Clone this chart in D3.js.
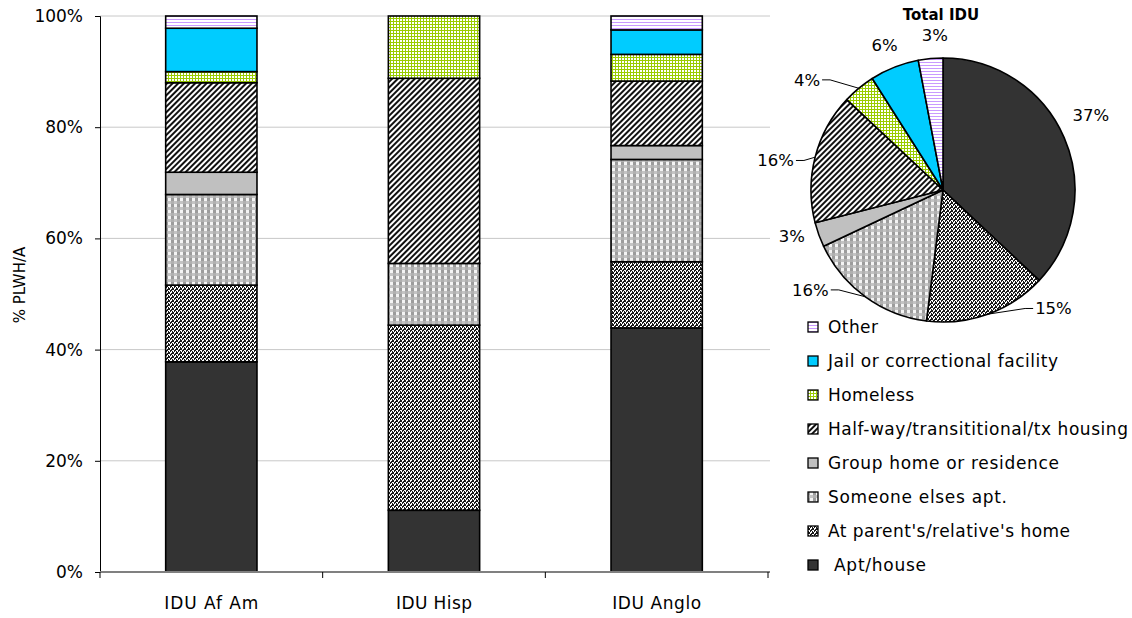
<!DOCTYPE html>
<html>
<head>
<meta charset="utf-8">
<script src="https://cdn.jsdelivr.net/npm/d3@7"></script>
<style>
  html, body { margin: 0; padding: 0; background: #fff; }
  svg { display: block; font-family: "DejaVu Sans", Verdana, sans-serif; }
</style>
</head>
<body>
<svg id="chart" width="1132" height="618"></svg>
<script>
// Housing status of IDU PLWH/A, percent by group (stacked bottom to top)
const categories = ["IDU Af Am", "IDU Hisp", "IDU Anglo"];
const seriesNames = [
  "Apt/house",
  "At parent's/relative's home",
  "Someone elses apt.",
  "Group home or residence",
  "Half-way/transititional/tx housing",
  "Homeless",
  "Jail or correctional facility",
  "Other"
];
const afAmValues  = [37.8, 13.8, 16.3, 4.0, 16.1, 2.0, 7.8, 2.2];
const hispValues  = [11.1, 33.3, 11.1, 0.0, 33.3, 11.2, 0.0, 0.0];
const angloValues = [43.9, 11.9, 18.4, 2.5, 11.6, 4.8, 4.4, 2.5];
const totalIduValues = [37, 15, 16, 3, 16, 4, 6, 3];
const yTicks = [0, 20, 40, 60, 80, 100];
const pieTitle = "Total IDU";
const yAxisTitle = "% PLWH/A";

const groupValues = [afAmValues, hispValues, angloValues];

const svg = d3.select("#chart");
const defs = svg.append("defs");

// ---- fill patterns ----
function pattern(id, w, h, build, transform) {
  const p = defs.append("pattern").attr("id", id)
    .attr("patternUnits", "userSpaceOnUse").attr("width", w).attr("height", h);
  if (transform) p.attr("patternTransform", transform);
  build(p);
}
// dense black/white confetti
pattern("pParent", 4, 4, p => {
  p.append("rect").attr("width", 4).attr("height", 4).attr("fill", "#fff");
  [[0,0],[1,0],[1,1],[3,1],[2,2],[3,2],[0,3],[2,3],[0,1]].forEach(([x, y]) =>
    p.append("rect").attr("x", x).attr("y", y).attr("width", 1).attr("height", 1).attr("fill", "#1a1a1a"));
});
// light grey checker
pattern("pSomeone", 6, 6, p => {
  p.append("rect").attr("width", 6).attr("height", 6).attr("fill", "#c4c4c4");
  p.append("rect").attr("x", 0).attr("y", 0).attr("width", 3).attr("height", 3).attr("fill", "#f4f4f4");
  p.append("rect").attr("x", 3).attr("y", 0).attr("width", 3).attr("height", 3).attr("fill", "#9c9c9c");
  p.append("rect").attr("x", 3).attr("y", 3).attr("width", 3).attr("height", 3).attr("fill", "#b0b0b0");
});
// forward diagonal stripes
pattern("pHalfway", 4, 4, p => {
  p.append("rect").attr("width", 4).attr("height", 4).attr("fill", "#fff");
  p.append("rect").attr("x", 0).attr("y", 0).attr("width", 2).attr("height", 4).attr("fill", "#111");
}, "rotate(45)");
// yellow-green small grid
pattern("pHomeless", 3, 3, p => {
  p.append("rect").attr("width", 3).attr("height", 3).attr("fill", "#fff");
  p.append("rect").attr("x", 0).attr("y", 0).attr("width", 3).attr("height", 1).attr("fill", "#99cc00");
  p.append("rect").attr("x", 0).attr("y", 0).attr("width", 1).attr("height", 3).attr("fill", "#99cc00");
});
// lavender horizontal lines
pattern("pOther", 3, 3, p => {
  p.append("rect").attr("width", 3).attr("height", 3).attr("fill", "#fff");
  p.append("rect").attr("x", 0).attr("y", 1).attr("width", 3).attr("height", 1).attr("fill", "#c999ff");
});

const fills = [
  "#333333",
  "url(#pParent)",
  "url(#pSomeone)",
  "#c0c0c0",
  "url(#pHalfway)",
  "url(#pHomeless)",
  "#00ccff",
  "url(#pOther)"
];

// ---- stacked bar chart ----
const plot = { left: 100, right: 768, top: 16, bottom: 572 };
const x = d3.scaleBand().domain(categories).range([plot.left, plot.right]).padding(0);
const y = d3.scaleLinear().domain([0, 100]).range([plot.bottom, plot.top]);
const barWidth = x.bandwidth() * 0.41;

// gridlines
svg.append("g").selectAll("line").data(yTicks.filter(t => t > 0)).join("line")
  .attr("x1", plot.left).attr("x2", plot.right + 2)
  .attr("y1", d => y(d)).attr("y2", d => y(d))
  .attr("stroke", "#c8c8c8").attr("stroke-width", 1);

// stack data
const rows = categories.map((c, i) => {
  const r = { category: c };
  seriesNames.forEach((s, j) => { r[s] = groupValues[i][j]; });
  return r;
});
const stacked = d3.stack().keys(seriesNames)(rows);

const barLayer = svg.append("g");
stacked.forEach((layer, j) => {
  barLayer.append("g").selectAll("rect")
    .data(layer.filter(d => d[1] - d[0] > 0))
    .join("rect")
    .attr("x", d => x(d.data.category) + (x.bandwidth() - barWidth) / 2)
    .attr("y", d => y(d[1]))
    .attr("width", barWidth)
    .attr("height", d => y(d[0]) - y(d[1]))
    .attr("fill", fills[j])
    .attr("stroke", "#000").attr("stroke-width", 1.6);
});

// y axis
const yAxis = d3.axisLeft(y).tickValues(yTicks).tickSize(5).tickPadding(12)
  .tickFormat(d => d + "%");
const yg = svg.append("g").attr("transform", `translate(${plot.left},0)`).call(yAxis);
yg.select(".domain").attr("stroke", "#000").attr("stroke-width", 1);
yg.selectAll(".tick line").attr("stroke", "#000");
yg.selectAll("text").attr("font-size", 17).attr("fill", "#000")
  .attr("font-family", "DejaVu Sans, sans-serif");

// x axis baseline with ticks at category boundaries
svg.append("line").attr("x1", plot.left).attr("x2", plot.right + 2)
  .attr("y1", plot.bottom).attr("y2", plot.bottom)
  .attr("stroke", "#808080").attr("stroke-width", 2);
const boundaries = categories.map(c => x(c)).concat([x(categories[categories.length - 1]) + x.bandwidth()]);
svg.append("g").selectAll("line").data(boundaries).join("line")
  .attr("x1", d => d).attr("x2", d => d)
  .attr("y1", plot.bottom).attr("y2", plot.bottom + 6)
  .attr("stroke", "#000").attr("stroke-width", 1);
const catLabelWidths = [94, 76, 89];
svg.append("g").selectAll("text").data(categories).join("text")
  .attr("x", d => x(d) + x.bandwidth() / 2)
  .attr("y", 609)
  .attr("text-anchor", "middle")
  .attr("font-size", 17)
  .attr("textLength", (d, i) => catLabelWidths[i])
  .attr("lengthAdjust", "spacing")
  .text(d => d);

// y axis title
svg.append("text")
  .attr("transform", "translate(25,285) rotate(-90)")
  .attr("text-anchor", "middle")
  .attr("font-size", 15)
  .text(yAxisTitle);

// ---- pie chart ----
const cx = 943, cy = 190, radius = 132;
const pieGen = d3.pie().sort(null).value(d => d);
const arcs = pieGen(totalIduValues);
const arcGen = d3.arc().innerRadius(0).outerRadius(radius);
const pieG = svg.append("g").attr("transform", `translate(${cx},${cy})`);
pieG.selectAll("path").data(arcs).join("path")
  .attr("d", arcGen)
  .attr("fill", (d, i) => fills[i])
  .attr("stroke", "#000").attr("stroke-width", 1.6).attr("stroke-linejoin", "round");

svg.append("text").attr("x", 941).attr("y", 20)
  .attr("text-anchor", "middle").attr("font-size", 15).attr("font-weight", "bold")
  .text(pieTitle);

// label placement: angle (deg, clockwise from top) and distance, leader line flag
const labelPlacement = [
  { ang: 63, dist: 166, leader: false },
  { ang: 137, dist: 162, leader: true },
  { ang: 233, dist: 166, leader: true },
  { ang: 253, dist: 158, leader: false },
  { ang: 280, dist: 170, leader: true },
  { ang: 309, dist: 175, leader: true },
  { ang: 338, dist: 156, leader: false },
  { ang: 357, dist: 155, leader: false }
];
const pieLabels = svg.append("g");
arcs.forEach((a, i) => {
  const lp = labelPlacement[i];
  const t = lp.ang * Math.PI / 180;
  const lx = cx + Math.sin(t) * lp.dist;
  const ly = cy - Math.cos(t) * lp.dist;
  const txt = pieLabels.append("text")
    .attr("x", lx).attr("y", ly + 6)
    .attr("text-anchor", "middle").attr("font-size", 16.5)
    .text(Math.round(a.value) + "%");
  if (lp.leader) {
    const mid = (a.startAngle + a.endAngle) / 2;
    const ex = cx + Math.sin(mid) * radius;
    const ey = cy - Math.cos(mid) * radius;
    const w = txt.node().getComputedTextLength();
    const side = Math.sin(t) > 0 ? -1 : 1;
    const sx = lx + side * (w / 2 + 2);
    pieLabels.append("polyline")
      .attr("points", `${sx},${ly} ${sx + side * 8},${ly} ${ex},${ey}`)
      .attr("fill", "none").attr("stroke", "#000").attr("stroke-width", 1);
  }
});

// ---- legend (top to bottom: reverse stack order) ----
const legendOrder = d3.range(seriesNames.length).reverse();
const legendTextWidths = [92, 242, 179, 231, 300, 86, 230, 50];
const legend = svg.append("g");
legendOrder.forEach((j, k) => {
  const ly = 327 + k * 34;
  legend.append("rect")
    .attr("x", 808).attr("y", ly - 5).attr("width", 10).attr("height", 10)
    .attr("fill", fills[j]).attr("stroke", "#000").attr("stroke-width", 1.3);
  legend.append("text")
    .attr("x", j === 0 ? 834 : 828).attr("y", ly + 6)
    .attr("font-size", 17)
    .attr("textLength", legendTextWidths[j])
    .attr("lengthAdjust", "spacing")
    .text(seriesNames[j]);
});
</script>
</body>
</html>
